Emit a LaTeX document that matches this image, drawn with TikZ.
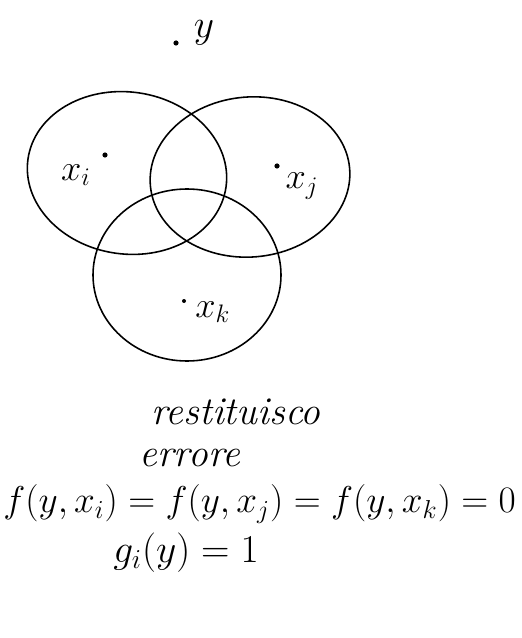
\documentclass[tikz,border=0pt]{standalone}
\usepackage{xcolor}
\usetikzlibrary{math}
\definecolor{ink}{RGB}{0,0,0}

\tikzset{
  setline/.style={draw=ink, line width=0.9pt},
  pointdot/.style={fill=ink},
  lbl/.style={inner sep=0pt, font=\LARGE},
  bigtxt/.style={lbl, scale=1.3},
}

\begin{document}
\begin{tikzpicture}[x=0.02cm,y=-0.02cm]
\tikzmath{
\R=2.6;
}
\useasboundingbox (0,0) rectangle (521,638);

% the three sets
\draw[setline, rotate around={-8:(127,173)}] (127,173) ellipse (100 and 81);
\draw[setline, rotate around={5:(250,177)}] (250,177) ellipse (100 and 80);
\draw[setline] (187,275) ellipse (94 and 86);

% points
\fill[pointdot] (176,43) circle(\R);
\fill[pointdot] (105,155) circle(\R);
\fill[pointdot] (277,166) circle(\R);
\fill[pointdot] (184,301) circle(2);

\node[bigtxt] (y) at (204,33) {$y$};
\node[lbl, scale=1.2] (xi) at (76,175) {$x_i$};
\node[lbl, scale=1.2] (xj) at (302,186) {$x_j$};
\node[lbl, scale=1.2] (xk) at (213,312) {$x_k$};

% text
\node[bigtxt] (rest) at (236,412) {\itshape restituisco};
\node[bigtxt] (err) at (190,458) {\itshape errore};
\node[lbl, scale=1.23, anchor=west] (feq) at (3,504) {$f(y,x_i)=f(y,x_j)=f(y,x_k)=0$};
\node[bigtxt] (geq) at (186,553) {$g_i(y)=1$};

\end{tikzpicture}
\end{document}
